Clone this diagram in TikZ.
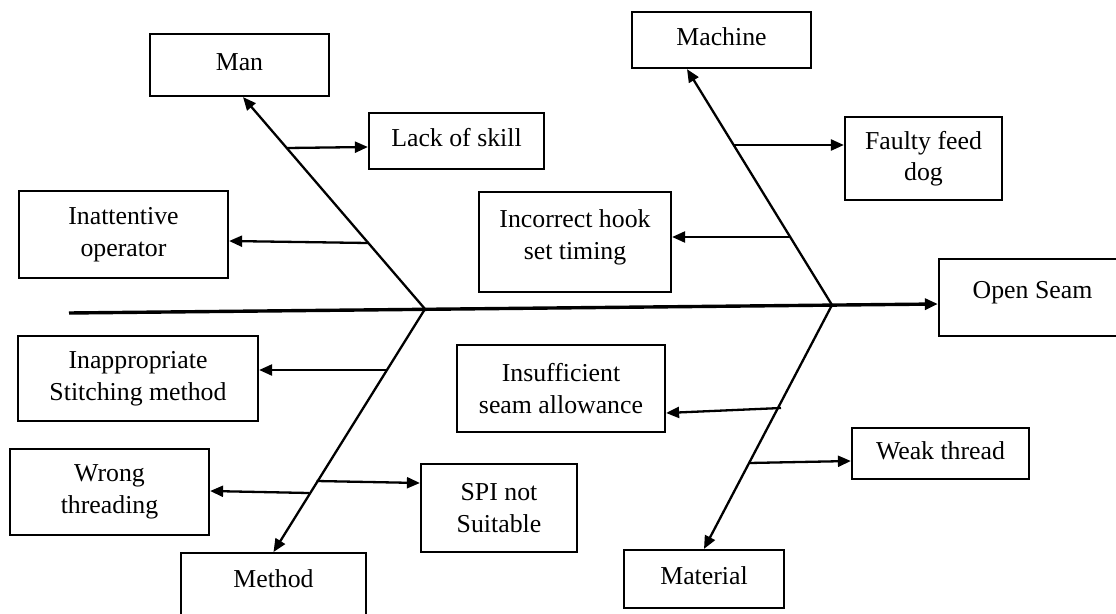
\documentclass[tikz,border=0pt]{standalone}
\usepackage{fontspec}
\setmainfont{Liberation Serif}
\usetikzlibrary{arrows.meta}
\begin{document}
\begin{tikzpicture}[x=1pt,y=-1pt,
  box/.style={draw,line width=2.2pt,align=center,inner sep=0pt,font=\fontsize{25.8}{31.5}\selectfont},
  one/.style={text height=17pt,text depth=6pt},
  arr/.style={line width=2.3pt,-{Triangle[length=13pt,width=11pt]}},
  spine/.style={line width=3.4pt,-{Triangle[length=13pt,width=11pt]}},
  ]
\useasboundingbox (0,0) rectangle (1116,613);
\fill[white] (0,0) rectangle (1116,613);

% boxes
\node[box,one,minimum width=179pt,minimum height=62pt] (man) at (239.5,65) {Man};
\node[box,one,minimum width=175pt,minimum height=56pt] (lack) at (456.5,141) {Lack of skill};
\node[box,minimum width=209pt,minimum height=87pt] (inatt) at (123.5,234.5) {Inattentive\\operator};
\node[box,text depth=15pt,minimum width=192pt,minimum height=100pt] (hook) at (575,242) {Incorrect hook\\set timing};
\node[box,one,minimum width=179pt,minimum height=56pt] (machine) at (721.5,40) {Machine};
\node[box,minimum width=157pt,minimum height=83pt] (faulty) at (923.5,158.5) {Faulty feed\\dog};
\node[box,one,text depth=16pt,minimum width=187pt,minimum height=77pt] (open) at (1032.5,297.5) {Open Seam};
\node[box,minimum width=240pt,minimum height=85pt] (inapp) at (138,378.5) {Inappropriate\\Stitching method};
\node[box,minimum width=199pt,minimum height=86pt] (wrong) at (109.5,492) {Wrong\\threading};
\node[box,minimum width=156pt,minimum height=88pt] (spi) at (499,508) {SPI not\\Suitable};
\node[box,minimum width=208pt,minimum height=87pt] (insuf) at (561,388.5) {Insufficient\\seam allowance};
\node[box,one,minimum width=177pt,minimum height=51pt] (weak) at (940.5,453.5) {Weak thread};
\node[box,one,minimum width=160pt,minimum height=58pt] (material) at (704,579) {Material};
\node[box,one,text depth=27.6pt,anchor=north,minimum width=185pt,minimum height=80pt] (method) at (273.5,552) {Method};

% spine and junctions
\coordinate (s0) at (69,313);
\coordinate (j1) at (425,309);
\coordinate (j2) at (832,305);
\draw[spine] (s0) -- ([yshift=-6.5pt]open.west);

% main bones
\draw[arr] (j1) -- ([xshift=3.5pt]man.south);
\draw[arr] (j1) -- (method.north);
\draw[arr] (j2) -- ([xshift=-34.5pt]machine.south);
\draw[arr] (j2) -- (material.north);

% branch points
\coordinate (blk) at (287,148);
\coordinate (bin) at (368,243);
\coordinate (bfa) at (733,145);
\coordinate (bho) at (790,237);
\coordinate (bia) at (386.5,370);
\coordinate (bwr) at (309,493);
\coordinate (bsp) at (316.5,481);
\coordinate (bis) at (781,408);
\coordinate (bwe) at (749,463);

% branches
\draw[arr] (blk) -- ([yshift=-6pt]lack.west);
\draw[arr] (bin) -- ([yshift=-6.5pt]inatt.east);
\draw[arr] (bfa) -- ([yshift=13.5pt]faulty.west);
\draw[arr] (bho) -- ([yshift=5pt]hook.east);
\draw[arr] (bia) -- ([yshift=8.5pt]inapp.east);
\draw[arr] (bwr) -- ([yshift=1pt]wrong.east);
\draw[arr] (bsp) -- ([yshift=25pt]spi.west);
\draw[arr] (bis) -- ([yshift=-24.5pt]insuf.east);
\draw[arr] (bwe) -- ([yshift=-7.5pt]weak.west);
\end{tikzpicture}
\end{document}
